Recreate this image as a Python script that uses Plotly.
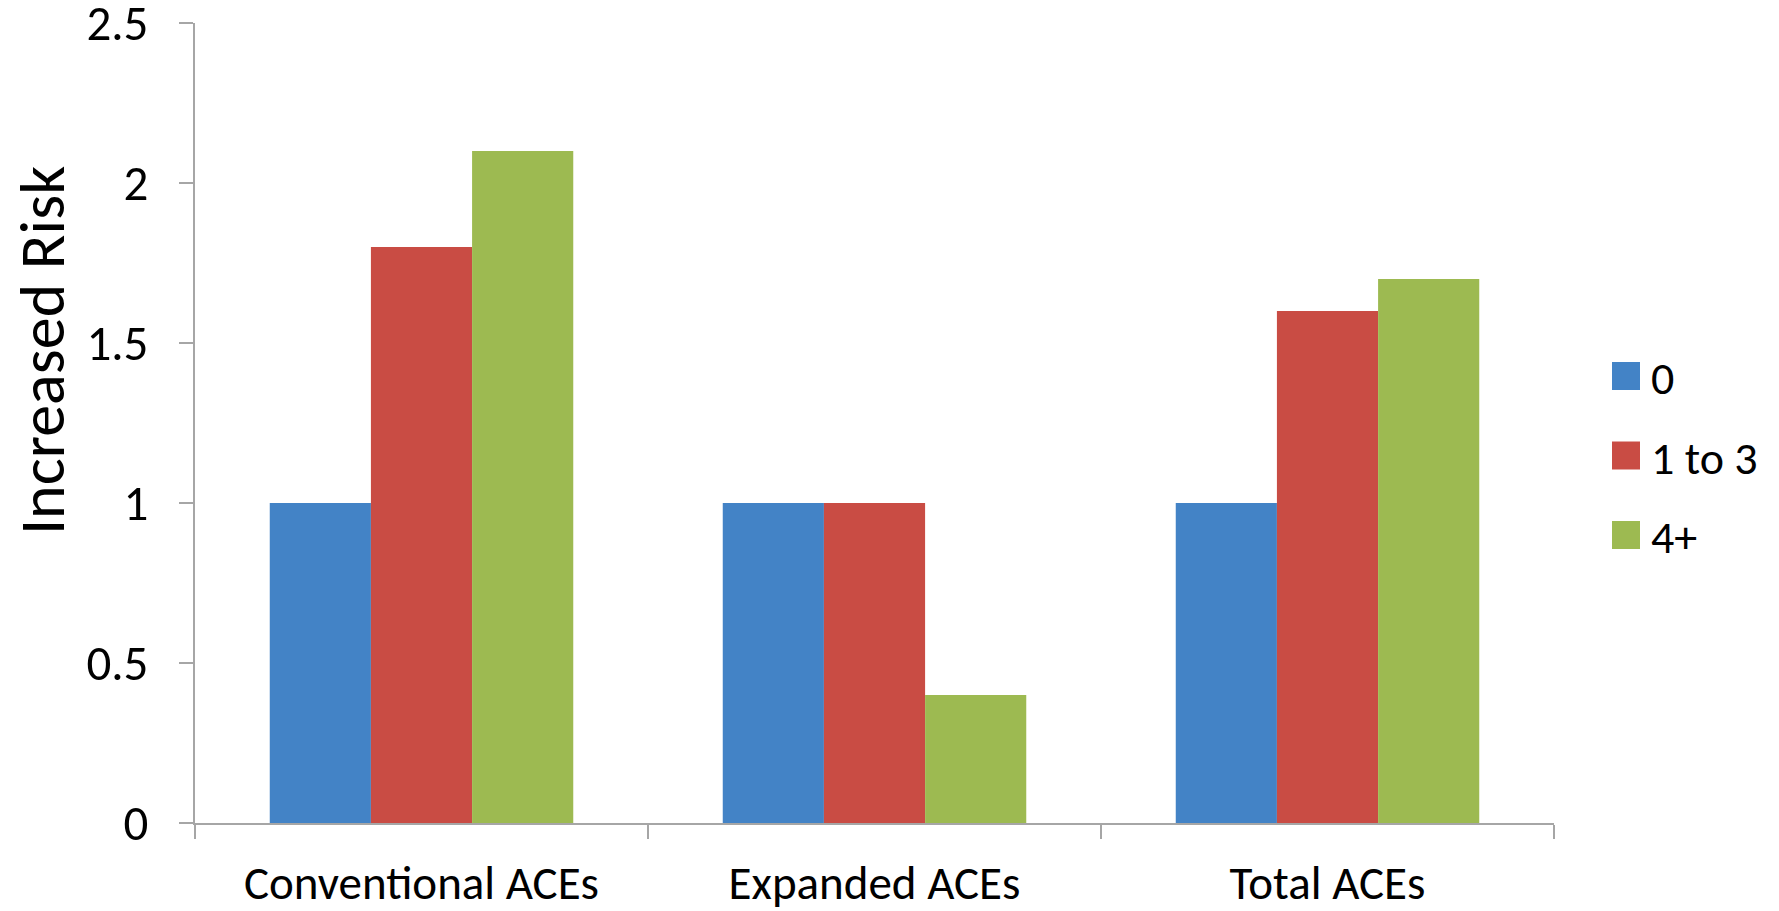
import plotly.graph_objects as go

categories = ["Conventional ACEs", "Expanded ACEs", "Total ACEs"]
series_names = ["0", "1 to 3", "4+"]
values_0 = [1.0, 1.0, 1.0]
values_1to3 = [1.8, 1.0, 1.6]
values_4plus = [2.1, 0.4, 1.7]
colors = ["#4383C6", "#C94C44", "#9DBA51"]
y_ticks = [0, 0.5, 1, 1.5, 2, 2.5]
y_tick_labels = ["0", "0.5", "1", "1.5", "2", "2.5"]

FONT = "Carlito, Lato, sans-serif"
W, H = 1779, 911
ML, MR, MT, MB = 195, 225, 23, 88

fig = go.Figure()
for name, vals, col in zip(series_names, [values_0, values_1to3, values_4plus], colors):
    fig.add_trace(go.Bar(name=name, x=categories, y=vals,
                         marker=dict(color=col, line=dict(width=0)),
                         showlegend=False))

# manual legend (large swatches like the original)
plot_w = W - ML - MR
plot_h = H - MT - MB
for i, (name, col) in enumerate(zip(series_names, colors)):
    cy = 376 + i * 79.5
    y0 = (H - MB - (cy + 14)) / plot_h
    y1 = (H - MB - (cy - 14)) / plot_h
    x0 = (1612 - ML) / plot_w
    x1 = (1640 - ML) / plot_w
    fig.add_shape(type="rect", xref="paper", yref="paper", x0=x0, x1=x1, y0=y0, y1=y1,
                  fillcolor=col, line=dict(width=0))
    fig.add_annotation(xref="paper", yref="paper", x=(1649 - ML) / plot_w,
                       y=(H - MB - cy - 2) / plot_h, text=name, showarrow=False,
                       xanchor="left", yanchor="middle",
                       font=dict(family=FONT, size=46, color="black"))

fig.add_annotation(xref="paper", yref="paper", x=(42 - ML) / plot_w, y=(H - MB - 351) / plot_h,
                   text="Increased Risk", textangle=-90, showarrow=False,
                   xanchor="center", yanchor="middle",
                   font=dict(family=FONT, size=64, color="black"))

fig.update_layout(
    width=W, height=H,
    margin=dict(l=ML, r=MR, t=MT, b=MB, pad=0, autoexpand=False),
    paper_bgcolor="white", plot_bgcolor="white",
    barmode="group", bargap=0.33, bargroupgap=0,
    showlegend=False,
    font=dict(family=FONT, size=48, color="black"),
)
fig.update_xaxes(
    type="category", range=[-0.5, 2.5], automargin=False,
    showline=True, linecolor="#A6A6A6", linewidth=1.5,
    ticks="outside", tickson="boundaries", ticklen=14, tickcolor="#A6A6A6", tickwidth=1.5,
    showgrid=False, zeroline=False,
    tickfont=dict(family=FONT, size=47, color="black"),
    ticklabelstandoff=18, ticklabeloverflow="allow",
)
fig.update_yaxes(
    range=[0, 2.5], tickvals=y_ticks, ticktext=y_tick_labels, automargin=False,
    showline=True, linecolor="#A6A6A6", linewidth=1.5,
    ticks="outside", ticklen=14, tickcolor="#A6A6A6", tickwidth=1.5,
    showgrid=False, zeroline=False,
    tickfont=dict(family=FONT, size=49, color="black"),
    ticklabelstandoff=21, ticklabeloverflow="allow",
)

fig.write_html("out.html")
